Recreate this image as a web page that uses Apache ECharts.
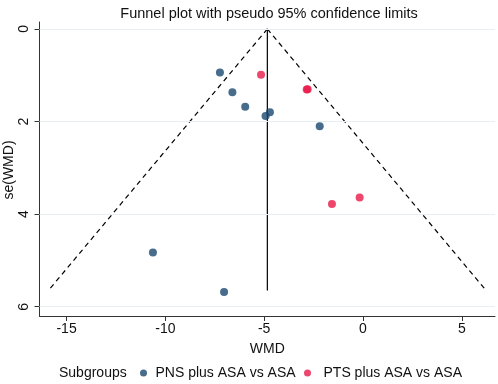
<!DOCTYPE html>
<html>
<head>
<meta charset="utf-8">
<script src="https://cdn.jsdelivr.net/npm/echarts@6/dist/echarts.min.js"></script>
<style>html,body{margin:0;padding:0;background:#fff;}#c{width:498px;height:384px;}</style>
</head>
<body>
<div id="c"></div>
<script>
// Subgroup points: [WMD, se(WMD)]
var pnsWmd = [-7.24, -6.61, -5.96, -4.71, -4.93, -2.19, -10.63, -7.03];
var pnsSe  = [0.94, 1.37, 1.68, 1.80, 1.88, 2.10, 4.83, 5.68];
var ptsWmd = [-5.16, -2.85, -2.80, -1.57, -0.17];
var ptsSe  = [0.99, 1.31, 1.30, 3.78, 3.64];
// Funnel (pseudo 95% limits) endpoints
var pooledWmd = -4.84;
var funnelSe = [0, 5.65];
var lowerLimit = [-4.84, -15.92];
var upperLimit = [-4.84, 6.23];
var xTicks = [-15, -10, -5, 0, 5];
var yTicks = [0, 2, 4, 6];
var seriesNames = ['PNS plus ASA vs ASA', 'PTS plus ASA vs ASA'];

function zip(a, b) { return a.map(function (v, i) { return [v, b[i]]; }); }

var font = 'Arial, "Liberation Sans", sans-serif';
var legendText = {fontFamily: font, fontSize: 14, color: '#111'};
var chart = echarts.init(document.getElementById('c'), null, {renderer: 'canvas'});
chart.setOption({
  animation: false,
  backgroundColor: '#fff',
  title: {
    text: 'Funnel plot with pseudo 95% confidence limits',
    left: 264, top: 1, textAlign: 'center',
    textStyle: {fontFamily: font, fontSize: 14.5, fontWeight: 'normal', color: '#111'}
  },
  grid: {left: 39.5, right: 3, top: 22, bottom: 68, containLabel: false, outerBoundsMode: 'none'},
  xAxis: {
    type: 'value', min: -16.37, max: 6.68,
    name: 'WMD', nameLocation: 'middle', nameGap: 26,
    nameTextStyle: {fontFamily: font, fontSize: 14, color: '#111'},
    axisLine: {show: true, onZero: false, lineStyle: {color: '#333', width: 1}},
    axisTick: {show: true, length: 5, customValues: xTicks, lineStyle: {color: '#333'}},
    axisLabel: {customValues: xTicks, fontFamily: font, fontSize: 14, color: '#111', margin: 6},
    splitLine: {show: false}
  },
  yAxis: {
    type: 'value', inverse: true, min: -0.15, max: 6.2,
    axisLine: {show: true, onZero: false, lineStyle: {color: '#333', width: 1}},
    axisTick: {show: true, length: 5, customValues: yTicks, lineStyle: {color: '#333'}},
    axisLabel: {customValues: yTicks, rotate: 90, fontFamily: font, fontSize: 14, color: '#111', margin: 8},
    splitLine: {show: false}
  },
  legend: [{
    data: [seriesNames[0]], left: 135, top: 361, icon: 'circle',
    itemWidth: 14, itemHeight: 7, textStyle: legendText
  }, {
    data: [seriesNames[1]], left: 299, top: 361, icon: 'circle',
    itemWidth: 22, itemHeight: 7, textStyle: legendText
  }],
  graphic: [{
    type: 'text', x: 59, y: 373,
    style: {text: 'Subgroups', fontFamily: font, fontSize: 14, fill: '#111', verticalAlign: 'middle'}
  }, {
    type: 'text', x: 9, y: 170, rotation: Math.PI / 2,
    style: {text: 'se(WMD)', fontFamily: font, fontSize: 14, fill: '#111', align: 'center', verticalAlign: 'middle'}
  }],
  series: [
    {
      type: 'line', name: 'grid', silent: true, data: [], symbol: 'none',
      markLine: {
        silent: true, symbol: 'none', label: {show: false},
        lineStyle: {color: '#e6eff1', width: 1, type: 'solid'},
        data: yTicks.map(function (v) { return {yAxis: v}; })
      }
    },
    {
      type: 'line', name: 'lower', data: zip(lowerLimit, funnelSe), symbol: 'none', silent: true,
      lineStyle: {color: '#000', width: 1.2, type: [5, 4]}
    },
    {
      type: 'line', name: 'upper', data: zip(upperLimit, funnelSe), symbol: 'none', silent: true,
      lineStyle: {color: '#000', width: 1.2, type: [5, 4]}
    },
    {
      type: 'line', name: 'pooled', data: zip([pooledWmd, pooledWmd], funnelSe), symbol: 'none', silent: true,
      lineStyle: {color: '#000', width: 1.2, type: 'solid'}
    },
    {
      type: 'scatter', name: seriesNames[0], data: zip(pnsWmd, pnsSe),
      symbol: 'circle', symbolSize: 8, itemStyle: {color: '#1a476f'}, z: 5
    },
    {
      type: 'scatter', name: seriesNames[1], data: zip(ptsWmd, ptsSe),
      symbol: 'circle', symbolSize: 8, itemStyle: {color: '#e8194a'}, z: 5
    }
  ]
});
</script>
</body>
</html>
